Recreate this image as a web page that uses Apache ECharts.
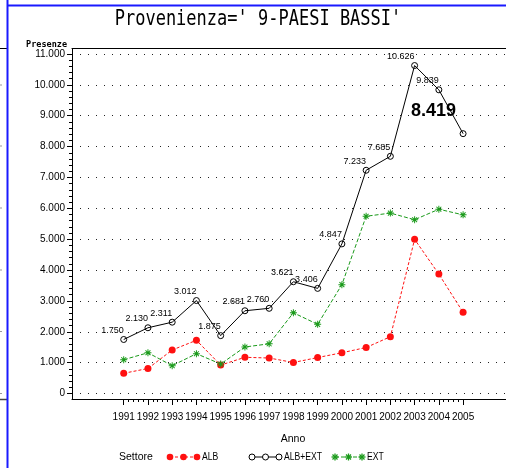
<!DOCTYPE html>
<html><head><meta charset="utf-8">
<script src="https://cdn.jsdelivr.net/npm/echarts@6/dist/echarts.min.js"></script>
<style>html,body{margin:0;padding:0;background:#fff}#c{width:506px;height:468px}</style>
</head><body><div id="c"></div>
<script>
// ---- data ----
const years = [1991,1992,1993,1994,1995,1996,1997,1998,1999,2000,2001,2002,2003,2004,2005];
const albExt = [1750,2130,2311,3012,1875,2681,2760,3621,3406,4847,7233,7685,10626,9839,8419];
const alb = [655,810,1410,1724,920,1173,1150,1005,1165,1320,1490,1840,4995,3868,2631];
const ext = [1095,1320,901,1290,955,1507,1610,2616,2241,3527,5743,5845,5631,5971,5788];
const yTicks = [0,1000,2000,3000,4000,5000,6000,7000,8000,9000,10000,11000];
const titleText = "Provenienza=' 9-PAESI BASSI'";
const seriesNames = ['ALB','ALB+EXT','EXT'];

// ---- helpers ----
const fmt = v => String(v).replace(/\B(?=(\d{3})+(?!\d))/g, '.');
const minorX = [];
for (let i = 0; i < years.length - 1; i++) for (let k = 1; k < 5; k++) minorX.push(years[i] + k * 0.2);
const minorY = [];
for (let i = 0; i < yTicks.length - 1; i++) for (let k = 1; k < 5; k++) minorY.push(yTicks[i] + k * 200);

const XMIN = 1988.867, XMAX = 2006.77;
const YMIN = -178, YMAX = 11178;
const SANS = "'Liberation Sans', Arial, sans-serif";
const STAR = 'path://M0 4.3L10 4.3L10 5.7L0 5.7Z M4.3 0L5.7 0L5.7 10L4.3 10Z M1 2L2 1L9 8L8 9Z M8 1L9 2L2 9L1 8Z';
const RED = '#ff1010', GREEN = '#1a9a1a', BLUE = '#1a1aff';

const chart = echarts.init(document.getElementById('c'), null, {renderer: 'canvas'});

const pairs = arr => arr.map((v, i) => [years[i], v]);
const totalData = pairs(albExt).map((p, i) => {
  if (i === albExt.length - 1) {
    return {value: p, label: {fontSize: 18, fontWeight: 'bold', fontFamily: SANS, offset: [-7, -9], color: '#000'}};
  }
  return p;
});

const legendItems = [];
const legendDefs = [
  {name: seriesNames[0], x: 170, kind: 'dot', color: RED, dash: [3, 2]},
  {name: seriesNames[1], x: 252, kind: 'ring', color: '#000', dash: null},
  {name: seriesNames[2], x: 335, kind: 'star', color: GREEN, dash: [4, 2]}
];
const LY = 457;
legendDefs.forEach(d => {
  legendItems.push({type: 'line', shape: {x1: d.x, y1: LY, x2: d.x + 27, y2: LY},
    style: {stroke: d.color, lineWidth: 1, lineDash: d.dash || null}});
  [0, 13.5, 27].forEach(dx => {
    const cx = d.x + dx;
    if (d.kind === 'dot') legendItems.push({type: 'circle', shape: {cx: cx, cy: LY, r: 3.3}, style: {fill: d.color}});
    else if (d.kind === 'ring') legendItems.push({type: 'circle', shape: {cx: cx, cy: LY, r: 3}, style: {fill: '#fff', stroke: '#000', lineWidth: 1}});
    else {
      const r = 3.5, q = 2.5;
      [[-r,0,r,0],[0,-r,0,r],[-q,-q,q,q],[-q,q,q,-q]].forEach(s => legendItems.push({type: 'line',
        shape: {x1: cx + s[0], y1: LY + s[1], x2: cx + s[2], y2: LY + s[3]}, style: {stroke: d.color, lineWidth: 1.3}}));
    }
  });
  legendItems.push({type: 'text', x: d.x + 32, y: LY, scaleX: 0.82, originX: 0, originY: 0,
    style: {text: d.name, font: '10.5px ' + SANS, fill: '#000', verticalAlign: 'middle', textAlign: 'left'}});
});

const leftMarks = [393.5, 331.5, 270, 208, 146, 85].map(y => ({type: 'line', shape: {x1: 0, y1: y, x2: 2, y2: y}, style: {stroke: '#999', lineWidth: 1}}));

const option = {
  animation: false,
  backgroundColor: '#fff',
  grid: {left: 72, top: 48.5, right: 0, bottom: 69, containLabel: false},
  xAxis: [
    {type: 'value', min: XMIN, max: XMAX, position: 'bottom',
      axisLine: {show: true, onZero: false, lineStyle: {color: '#000', width: 1}},
      axisTick: {show: true, customValues: years, length: 6, lineStyle: {color: '#000'}},
      axisLabel: {show: true, customValues: years, formatter: v => String(Math.round(v)), margin: 13,
        showMinLabel: true, showMaxLabel: true, hideOverlap: false,
        fontFamily: SANS, fontSize: 10, color: '#000'},
      splitLine: {show: false}},
    {type: 'value', min: XMIN, max: XMAX, position: 'bottom',
      axisLine: {show: false, onZero: false},
      axisTick: {show: true, customValues: minorX, length: 3, lineStyle: {color: '#000'}},
      axisLabel: {show: false, customValues: minorX},
      splitLine: {show: false}},
    {type: 'value', min: XMIN, max: XMAX, position: 'top',
      axisLine: {show: true, onZero: false, lineStyle: {color: '#000', width: 1}},
      axisTick: {show: false}, axisLabel: {show: false}, splitLine: {show: false}}
  ],
  yAxis: [
    {type: 'value', min: YMIN, max: YMAX, position: 'left',
      axisLine: {show: true, onZero: false, lineStyle: {color: '#000', width: 1}},
      axisTick: {show: true, customValues: yTicks, length: 5, lineStyle: {color: '#000'}},
      axisLabel: {show: true, customValues: yTicks, formatter: v => fmt(Math.round(v)), margin: 7,
        showMinLabel: true, showMaxLabel: true,
        fontFamily: SANS, fontSize: 10, color: '#000'},
      splitLine: {show: true, lineStyle: {color: '#222', width: 1, type: [1, 7]}}},
    {type: 'value', min: YMIN, max: YMAX, position: 'left',
      axisLine: {show: false, onZero: false},
      axisTick: {show: true, customValues: minorY, length: 3, lineStyle: {color: '#000'}},
      axisLabel: {show: false, customValues: minorY},
      splitLine: {show: false}}
  ],
  series: [
    {name: seriesNames[0], type: 'line', data: pairs(alb), symbol: 'circle', symbolSize: 7,
      itemStyle: {color: RED}, lineStyle: {color: RED, width: 1, type: [3, 2]}, z: 3},
    {name: seriesNames[2], type: 'line', data: pairs(ext), symbol: STAR, symbolSize: 7,
      itemStyle: {color: GREEN}, lineStyle: {color: GREEN, width: 1, type: [4, 2]}, z: 3},
    {name: seriesNames[1], type: 'line', data: totalData, symbol: 'circle', symbolSize: 6,
      itemStyle: {color: 'rgba(0,0,0,0)', borderColor: '#000', borderWidth: 1},
      lineStyle: {color: '#000', width: 1}, z: 4,
      label: {show: true, position: 'top', align: 'right', distance: 1,
        formatter: p => fmt(p.value[1]), fontSize: 9, fontFamily: SANS, color: '#000'}}
  ],
  graphic: [
    {type: 'line', shape: {x1: 7.5, y1: 0, x2: 7.5, y2: 468}, style: {stroke: BLUE, lineWidth: 2}, z: 10},
    {type: 'line', shape: {x1: 7, y1: 5.5, x2: 506, y2: 5.5}, style: {stroke: BLUE, lineWidth: 2}, z: 10},
    {type: 'line', shape: {x1: 0, y1: 48.5, x2: 7, y2: 48.5}, style: {stroke: '#000', lineWidth: 1}},
    {type: 'line', shape: {x1: 0, y1: 399.5, x2: 7, y2: 399.5}, style: {stroke: '#444', lineWidth: 1.5}},
    ...leftMarks,
    {type: 'text', x: 258, y: 20, scaleY: 1.2, originX: 0, originY: 0,
      style: {text: titleText, font: '17px "DejaVu Sans Mono", monospace', fill: '#000', textAlign: 'center', verticalAlign: 'middle'}},
    {type: 'text', x: 67, y: 44.5, style: {text: 'Presenze', font: 'bold 8.5px "DejaVu Sans Mono", monospace', fill: '#000', textAlign: 'right', verticalAlign: 'middle'}},
    {type: 'text', x: 293, y: 439, style: {text: 'Anno', font: '10.5px ' + SANS, fill: '#000', textAlign: 'center', verticalAlign: 'middle'}},
    {type: 'text', x: 119, y: LY, style: {text: 'Settore', font: '10.5px ' + SANS, fill: '#000', textAlign: 'left', verticalAlign: 'middle'}},
    ...legendItems
  ]
};
chart.setOption(option);
</script></body></html>
